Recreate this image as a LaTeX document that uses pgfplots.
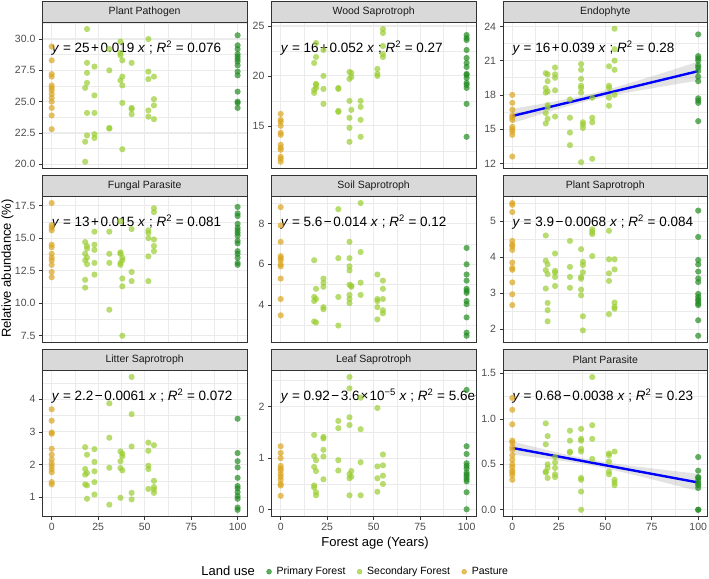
\documentclass[border=0pt]{standalone}
\usepackage{pgfplots}
\pgfplotsset{compat=1.18}
\usepackage{fontspec}
\setmainfont{Liberation Sans}
\definecolor{pastc}{HTML}{DAA520}
\definecolor{secc}{HTML}{9ACD32}
\definecolor{primc}{HTML}{228B22}
\definecolor{g20}{HTML}{333333}
\definecolor{g30}{HTML}{4D4D4D}
\definecolor{g92}{HTML}{EBEBEB}
\definecolor{g85}{HTML}{D9D9D9}
\definecolor{g10}{HTML}{1A1A1A}
\tikzset{eqn/.style={anchor=base west, inner sep=0pt, yshift=-30.3pt, font=\fontsize{13.5}{16}\selectfont}}
\pgfplotsset{
 facet/.style={
  scale only axis, width=204.5pt, height=146pt,
  xmin=-5, xmax=105,
  xtick={0,25,50,75,100}, minor xtick={12.5,37.5,62.5,87.5},
  xticklabels={0,25,50,75,100},
  grid=both,
  major grid style={draw=g92, line width=1.1pt},
  minor grid style={draw=g92, line width=0.55pt},
  axis line style={draw=g20, line width=0.6pt},
  tick style={draw=g20, line width=0.6pt},
  major tick length=3.5pt, minor tick length=0pt,
  tick align=outside, tick pos=left,
  ticklabel style={font=\fontsize{10.5}{12}\selectfont, text=g30},
  every axis title/.style={at={(0.5,1)}, anchor=south, fill=g85, draw=g20, line width=0.6pt, minimum width=204.5pt, minimum height=21pt, inner sep=0pt, font=\fontsize{10.5}{12}\selectfont, text=g10},
  clip=true,
 },
 noxlab/.style={xticklabels={}, xtick style={draw=none}},
 past/.style={only marks, mark=*, mark size=3.1pt, forget plot, mark options={draw opacity=0, fill=pastc, fill opacity=0.7}},
 sec/.style={only marks, mark=*, mark size=3.1pt, forget plot, mark options={draw opacity=0, fill=secc, fill opacity=0.7}},
 prim/.style={only marks, mark=*, mark size=3.1pt, forget plot, mark options={draw opacity=0, fill=primc, fill opacity=0.7}},
 seband/.style={draw=none, fill=gray, fill opacity=0.22, forget plot},
 fitline/.style={draw=blue, line width=2.4pt, forget plot},
}
\begin{document}
\begin{tikzpicture}
\useasboundingbox (0,0) rectangle (709pt,578pt);
% ---------- Row 1 ----------
\begin{axis}[facet, noxlab, at={(42.4pt,409.6pt)}, title={Plant Pathogen},
  ymin=19.67, ymax=31.33, ytick={20,22.5,25,27.5,30}, yticklabels={20.0,22.5,25.0,27.5,30.0},
  minor ytick={21.25,23.75,26.25,28.75,31.25}]
\addplot[prim] coordinates {(100,30.3)(100,29.5)(100,29.2)(100,28.8)(100,28.6)(100,28.4)(100,28.2)(100,27.9)(100,27.4)(100,27.1)(100,25.8)(100,25.0)(100,24.9)(100,24.5)};
\addplot[sec] coordinates {(19,30.8)(19,28.1)(19,27.3)(19,26.5)(19,24.1)(19,22.3)(18,26.1)(18,21.8)(18,20.2)
(23,27.8)(23,25.5)(23,24.1)(23,22.4)(23,22.1)(31,29.2)(31,27.5)(31,22.9)(31,22.85)
(37,29.8)(37,28.9)(37,28.7)(37,26.7)(38,28.3)(38,27.0)(38,26.3)(38,24.9)(38,21.2)
(43,28.1)(43,24.5)(43,24.4)(43,24.0)(52,30.0)(52,27.4)(52,26.8)(52,24.3)(52,23.8)
(55,27.0)(55,25.2)(55,24.7)(55,23.6)};
\addplot[past] coordinates {(0,29.4)(0,28.3)(0,27.2)(0,27.0)(0,26.3)(0,26.1)(0,25.9)(0,25.6)(0,25.3)(0,25.0)(0,24.5)(0,23.9)(0,22.8)};
\node[eqn] at (rel axis cs:0.04545,1) {\textit{y} = 25\kern1.5pt+\kern1.5pt0.019 \textit{x} ; \textit{R}\textsuperscript{2} = 0.076};
\end{axis}
\begin{axis}[facet, noxlab, at={(271.4pt,409.6pt)}, title={Wood Saprotroph},
  ymin=10.735, ymax=25.365, ytick={15,20,25}, yticklabels={15,20,25},
  minor ytick={12.5,17.5,22.5}]
\addplot[prim] coordinates {(100,24.1)(100,23.8)(100,23.6)(100,22.6)(100,21.8)(100,21.3)(100,20.9)(100,20.2)(100,20.1)(100,19.8)(100,19.3)(100,19.1)(100,18.8)(100,17.2)(100,13.9)};
\addplot[sec] coordinates {(18,18.6)(18,18.3)(18,21.3)(19,23.3)(19,21.9)(19,19.2)(19,19.1)(19,18.8)
(23,22.6)(23,20.0)(23,18.7)(23,17.2)(31,18.8)(31,18.7)(31,16.5)(31,16.4)
(37,20.4)(37,19.7)(37,17.5)(37,15.8)(37,14.8)(37,13.4)(38,20.3)(38,19.9)(38,16.6)
(43,17.5)(43,16.9)(43,15.6)(43,13.9)(52,20.7)(52,20.2)(52,20.0)
(55,24.7)(55,24.3)(55,23.0)(55,22.2)(55,21.9)};
\addplot[past] coordinates {(0,16.2)(0,15.6)(0,15.4)(0,15.0)(0,14.3)(0,14.1)(0,13.1)(0,12.8)(0,12.6)(0,11.9)(0,11.7)(0,11.4)};
\node[eqn] at (rel axis cs:0.04545,1) {\textit{y} = 16\kern1.5pt+\kern1.5pt0.052 \textit{x} ; \textit{R}\textsuperscript{2} = 0.27};
\end{axis}
\begin{axis}[facet, noxlab, at={(503pt,409.6pt)}, title={Endophyte},
  ymin=11.56, ymax=24.35, ytick={12,15,18,21,24}, yticklabels={12,15,18,21,24},
  minor ytick={13.5,16.5,19.5,22.5}]
\addplot[prim] coordinates {(100,23.3)(100,21.4)(100,21.2)(100,21.0)(100,20.6)(100,20.4)(100,20.1)(100,19.6)(100,19.2)(100,17.7)(100,17.5)(100,17.3)(100,15.7)};
\addplot[sec] coordinates {(18,19.9)(18,18.6)(18,18.2)(18,16.4)(18,15.5)(19,19.8)(19,19.2)(19,18.3)(19,17.1)(19,16.9)(19,15.9)
(23,20.4)(23,19.8)(23,19.5)(23,18.4)(23,16.1)(31,17.6)(31,16.0)(31,14.7)(31,13.6)
(37,20.7)(37,20.2)(37,19.4)(37,18.8)(37,18.6)(37,18.2)(37,12.1)(38,15.6)(38,15.4)(38,15.1)
(43,17.75)(43,16.0)(43,15.6)(43,12.4)(52,20.5)(52,18.8)(52,18.6)(52,17.75)(52,17.05)
(55,23.8)(55,22.0)(55,21.0)(55,20.2)(55,18.0)};
\addplot[past] coordinates {(0,18.0)(0,17.3)(0,16.7)(0,16.2)(0,16.0)(0,15.8)(0,15.2)(0,15.0)(0,14.8)(0,14.5)(0,12.6)};
\addplot[seband] coordinates {(0,16.78)(10,17.05)(20,17.34)(30,17.65)(40,18.00)(50,18.41)(60,18.88)(70,19.37)(80,19.87)(90,20.39)(100,20.91)
(100,19.25)(90,18.99)(80,18.71)(70,18.43)(60,18.14)(50,17.83)(40,17.45)(30,17.01)(20,16.54)(10,16.03)(0,15.52)} -- cycle;
\addplot[fitline] coordinates {(0,16.15)(100,20.08)};
\node[eqn] at (rel axis cs:0.04545,1) {\textit{y} = 16\kern1.5pt+\kern1.5pt0.039 \textit{x} ; \textit{R}\textsuperscript{2} = 0.28};
\end{axis}
% ---------- Row 2 ----------
\begin{axis}[facet, noxlab, at={(42.4pt,235.6pt)}, title={Fungal Parasite},
  ymin=6.99, ymax=18.21, ytick={7.5,10,12.5,15,17.5}, yticklabels={7.5,10.0,12.5,15.0,17.5},
  minor ytick={8.75,11.25,13.75,16.25}]
\addplot[prim] coordinates {(100,17.4)(100,16.9)(100,16.7)(100,16.1)(100,15.8)(100,15.6)(100,15.4)(100,15.2)(100,14.8)(100,14.6)(100,14.0)(100,13.8)(100,13.5)(100,13.1)(100,12.95)};
\addplot[sec] coordinates {(18,14.7)(18,13.8)(18,13.3)(18,11.8)(18,11.2)(19,14.4)(19,14.2)(19,13.5)(19,13.0)
(23,15.5)(23,14.5)(23,14.1)(23,13.1)(23,12.2)(31,15.5)(31,13.8)(31,13.1)(31,9.5)
(37,16.3)(37,13.9)(37,13.8)(37,13.1)(37,12.95)(38,13.5)(38,13.3)(38,11.9)(38,11.3)(38,7.5)
(43,15.7)(43,12.4)(43,11.7)(52,15.6)(52,15.4)(52,15.0)(52,13.6)(52,11.7)
(55,17.3)(55,17.0)(55,14.9)(55,14.4)(55,14.0)};
\addplot[past] coordinates {(0,17.7)(0,16.0)(0,15.8)(0,15.6)(0,14.5)(0,14.3)(0,13.8)(0,13.5)(0,13.3)(0,12.95)(0,12.4)(0,12.0)};
\node[eqn] at (rel axis cs:0.04545,1) {\textit{y} = 13\kern1.5pt+\kern1.5pt0.015 \textit{x} ; \textit{R}\textsuperscript{2} = 0.081};
\end{axis}
\begin{axis}[facet, noxlab, at={(271.4pt,235.6pt)}, title={Soil Saprotroph},
  ymin=2.175, ymax=9.325, ytick={4,6,8}, yticklabels={4,6,8},
  minor ytick={3,5,7,9}]
\addplot[prim] coordinates {(100,6.8)(100,6.0)(100,5.5)(100,5.2)(100,4.8)(100,4.7)(100,4.6)(100,4.2)(100,4.05)(100,3.4)(100,2.65)(100,2.5)};
\addplot[sec] coordinates {(18,6.2)(18,4.4)(18,4.2)(18,3.2)(19,4.8)(19,4.3)(19,3.15)
(23,5.3)(23,5.1)(23,4.9)(23,3.9)(23,3.8)(31,8.7)(31,6.3)(31,4.4)(31,3.0)
(37,7.1)(37,6.3)(37,5.9)(37,5.7)(37,5.0)(37,4.5)(37,4.3)(37,4.1)(38,4.95)(38,4.9)
(43,9.0)(43,6.6)(43,5.1)(43,4.5)(52,5.5)(52,4.3)(52,4.2)(52,3.9)(52,3.3)
(55,5.2)(55,4.8)(55,4.3)(55,3.75)(55,3.6)};
\addplot[past] coordinates {(0,8.8)(0,7.9)(0,7.1)(0,6.4)(0,6.3)(0,6.2)(0,6.0)(0,5.9)(0,5.3)(0,4.3)(0,3.5)};
\node[eqn] at (rel axis cs:0.04545,1) {\textit{y} = 5.6\kern1.5pt−\kern1.5pt0.014 \textit{x} ; \textit{R}\textsuperscript{2} = 0.12};
\end{axis}
\begin{axis}[facet, noxlab, at={(503pt,235.6pt)}, title={Plant Saprotroph},
  ymin=1.636, ymax=5.684, ytick={2,3,4,5}, yticklabels={2,3,4,5},
  minor ytick={2.5,3.5,4.5,5.5}]
\addplot[prim] coordinates {(100,5.29)(100,4.56)(100,3.92)(100,3.8)(100,3.6)(100,3.41)(100,3.31)(100,2.98)(100,2.9)(100,2.83)(100,2.78)(100,2.71)(100,2.67)(100,2.25)(100,1.82)};
\addplot[sec] coordinates {(18,4.6)(18,3.9)(18,3.64)(18,3.13)(19,3.8)(19,3.53)(19,2.73)(19,2.53)(19,2.22)
(23,4.1)(23,3.62)(23,3.57)(23,3.45)(23,3.2)(31,4.45)(31,3.73)(31,3.45)(31,3.15)
(37,4.22)(37,3.45)(37,3.4)(37,3.1)(37,2.94)(38,3.87)(38,3.78)(38,3.58)(38,2.36)(38,1.97)
(43,4.77)(43,4.7)(43,4.64)(43,4.03)(52,4.73)(52,3.94)(52,3.55)(52,3.34)(52,2.42)
(55,3.94)(55,3.66)(55,2.74)(55,2.62)(55,2.57)};
\addplot[past] coordinates {(0,5.5)(0,5.45)(0,5.25)(0,4.45)(0,4.35)(0,4.3)(0,4.2)(0,3.85)(0,3.7)(0,3.65)(0,3.3)(0,2.97)(0,2.67)};
\node[eqn] at (rel axis cs:0.04545,1) {\textit{y} = 3.9\kern1.5pt−\kern1.5pt0.0068 \textit{x} ; \textit{R}\textsuperscript{2} = 0.084};
\end{axis}
% ---------- Row 3 ----------
\begin{axis}[facet, at={(42.4pt,61.6pt)}, title={Litter Saprotroph},
  ymin=0.41, ymax=4.88, ytick={1,2,3,4}, yticklabels={1,2,3,4},
  minor ytick={1.5,2.5,3.5,4.5}]
\addplot[prim] coordinates {(100,3.4)(100,2.35)(100,2.1)(100,1.91)(100,1.59)(100,1.34)(100,1.27)(100,1.15)(100,1.03)(100,0.95)(100,0.68)(100,0.61)};
\addplot[sec] coordinates {(18,2.53)(18,1.86)(18,1.69)(18,1.39)(19,2.3)(19,1.74)(19,1.36)(19,0.95)
(23,2.47)(23,2.08)(23,1.79)(23,1.46)(23,1.08)(31,3.87)(31,2.82)(31,1.9)(31,0.77)
(37,2.4)(37,2.1)(37,1.89)(37,0.98)(38,2.33)(38,2.25)(38,1.82)
(43,4.68)(43,3.54)(43,2.55)(43,1.13)(43,0.93)(52,2.67)(52,2.42)(52,1.96)(52,1.86)(52,1.25)
(55,2.59)(55,1.5)(55,1.31)(55,1.23)(55,1.13)};
\addplot[past] coordinates {(0,3.69)(0,3.34)(0,2.98)(0,2.94)(0,2.48)(0,2.3)(0,2.15)(0,2.03)(0,1.95)(0,1.85)(0,1.76)(0,1.46)(0,1.39)};
\node[eqn] at (rel axis cs:0.04545,1) {\textit{y} = 2.2\kern1.5pt−\kern1.5pt0.0061 \textit{x} ; \textit{R}\textsuperscript{2} = 0.072};
\end{axis}
\begin{axis}[facet, at={(271.4pt,61.6pt)}, title={Leaf Saprotroph},
  ymin=-0.128, ymax=2.698, ytick={0,1,2}, yticklabels={0,1,2},
  minor ytick={0.5,1.5,2.5},
  legend columns=4,
  legend style={at={(0.3976,-0.3788)}, anchor=center, draw=none, fill=none,
    font=\fontsize{10.5}{12}\selectfont, inner sep=0pt,
    /tikz/every odd column/.append style={column sep=4pt},
    /tikz/every even column/.append style={column sep=10.5pt},
    nodes={inner sep=1pt}}]
\addlegendimage{empty legend}
\addlegendentry{\fontsize{13}{15}\selectfont Land use}
\addlegendimage{legend image code/.code={\fill[primc, fill opacity=0.7] (2.4pt,0pt) circle (2.4pt);}}
\addlegendentry{Primary Forest}
\addlegendimage{legend image code/.code={\fill[secc, fill opacity=0.7] (2.4pt,0pt) circle (2.4pt);}}
\addlegendentry{Secondary Forest}
\addlegendimage{legend image code/.code={\fill[pastc, fill opacity=0.7] (2.4pt,0pt) circle (2.4pt);}}
\addlegendentry{Pasture}
\addplot[prim] coordinates {(100,2.32)(100,1.23)(100,1.08)(100,0.9)(100,0.85)(100,0.8)(100,0.72)(100,0.68)(100,0.64)(100,0.59)(100,0.55)(100,0.34)(100,0.01)};
\addplot[sec] coordinates {(18,1.45)(18,1.04)(18,0.83)(18,0.47)(18,0.43)(19,0.96)(19,0.75)(19,0.34)(19,0.28)
(23,1.41)(23,1.38)(23,1.16)(23,1.03)(23,0.59)(31,1.72)(31,1.58)(31,0.96)(31,0.76)
(37,2.57)(37,2.35)(37,1.79)(37,1.64)(37,0.69)(37,0.61)(37,0.28)(38,0.75)(38,0.64)
(43,2.17)(43,1.56)(43,0.92)(43,0.28)(52,1.97)(52,0.84)(52,0.61)(52,0.35)
(55,1.07)(55,0.86)(55,0.66)(55,0.5)};
\addplot[past] coordinates {(0,1.23)(0,1.1)(0,1.0)(0,0.85)(0,0.8)(0,0.76)(0,0.69)(0,0.64)(0,0.58)(0,0.5)(0,0.47)(0,0.27)};
\node[eqn] at (rel axis cs:0.04545,1) {\textit{y} = 0.92\kern1.5pt−\kern1.5pt3.6\kern1pt×\kern1pt10\textsuperscript{−5} \textit{x} ; \textit{R}\textsuperscript{2} = 5.6e−06};
\end{axis}
\begin{axis}[facet, at={(503pt,61.6pt)}, title={Plant Parasite},
  ymin=-0.073, ymax=1.533, ytick={0,0.5,1,1.5}, yticklabels={0.0,0.5,1.0,1.5},
  minor ytick={0.25,0.75,1.25}]
\addplot[prim] coordinates {(100,0.58)(100,0.43)(100,0.36)(100,0.35)(100,0.32)(100,0.29)(100,0.27)(100,0.24)(100,0.0)(100,0.0)};
\addplot[sec] coordinates {(18,0.95)(18,0.72)(18,0.42)(18,0.41)(19,0.81)(19,0.5)(19,0.46)(19,0.35)
(23,0.58)(23,0.52)(23,0.46)(23,0.39)(23,0.36)(31,0.87)(31,0.76)(31,0.64)(31,0.63)
(37,0.89)(37,0.78)(37,0.76)(37,0.67)(37,0.64)(37,0.35)(37,0.33)(37,0.2)(37,0.0)
(43,1.46)(43,0.93)(43,0.78)(43,0.56)(52,0.62)(52,0.6)(52,0.53)(52,0.42)(52,0.39)
(55,0.64)(55,0.33)(55,0.3)(55,0.27)};
\addplot[past] coordinates {(0,1.23)(0,1.10)(0,0.94)(0,0.76)(0,0.74)(0,0.69)(0,0.66)(0,0.6)(0,0.55)(0,0.5)(0,0.47)(0,0.43)(0,0.41)(0,0.38)(0,0.33)};
\addplot[seband] coordinates {(0,0.752)(10,0.701)(20,0.650)(30,0.603)(40,0.560)(50,0.524)(60,0.494)(70,0.468)(80,0.443)(90,0.419)(100,0.395)
(100,0.205)(90,0.257)(80,0.309)(70,0.360)(60,0.410)(50,0.456)(40,0.496)(30,0.529)(20,0.558)(10,0.583)(0,0.608)} -- cycle;
\addplot[fitline] coordinates {(0,0.68)(100,0.30)};
\node[eqn] at (rel axis cs:0.04545,1) {\textit{y} = 0.68\kern1.5pt−\kern1.5pt0.0038 \textit{x} ; \textit{R}\textsuperscript{2} = 0.23};
\end{axis}
\node[font=\fontsize{13}{15}\selectfont] at (375pt,34.7pt) {Forest age (Years)};
\node[rotate=90, font=\fontsize{13}{15}\selectfont] at (7.5pt,309.5pt) {Relative abundance (\%)};
\end{tikzpicture}
\end{document}
